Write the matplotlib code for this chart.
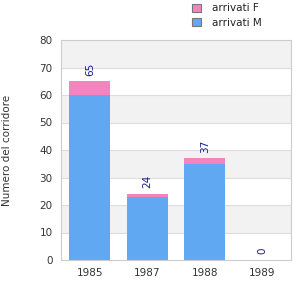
import matplotlib.pyplot as plt
import numpy as np

years = ["1985", "1987", "1988", "1989"]
arrivati_m = [60, 23, 35, 0]
arrivati_f = [5, 1, 2, 0]
totals = [65, 24, 37, 0]

fig = plt.figure(figsize=(3, 3), dpi=100)
ax = fig.add_axes([61 / 300, 40 / 300, 230 / 300, 220 / 300])

x = np.arange(len(years))
ax.set_xlim(-0.5, 3.5)
ax.set_ylim(0, 80)

# alternate background bands
for lo in range(10, 80, 20):
    ax.axhspan(lo, lo + 10, color="#f2f2f2", zorder=0, lw=0)
for y in range(10, 80, 10):
    ax.axhline(y, color="#dddddd", lw=0.8, zorder=1)

ax.bar(x, arrivati_m, width=0.71, color="#60a8f2", zorder=2, label="arrivati M")
ax.bar(x, arrivati_f, width=0.71, bottom=arrivati_m, color="#f285be", zorder=2, label="arrivati F")

for xi, t in zip(x, totals):
    ax.text(xi, t + 2, str(t), rotation=90, ha="center", va="bottom",
            fontsize=7.5, color="#1a1a8c")

ax.set_xticks(x)
ax.set_xticklabels(years)
ax.set_yticks(range(0, 81, 10))
ax.tick_params(length=0, labelsize=7.5, colors="#333333", pad=6)
for s in ax.spines.values():
    s.set_color("#cccccc")
ax.set_ylabel("Numero del corridore", fontsize=7.5, color="#333333")
ax.yaxis.set_label_coords(-49 / 230, 0.5)

handles, labels = ax.get_legend_handles_labels()
fig.legend(handles[::-1], labels[::-1], loc="upper left", bbox_to_anchor=(183 / 300, 1.02),
           frameon=False, fontsize=7.5, handlelength=0.8, handleheight=0.8,
           labelspacing=0.4, handletextpad=1.1)
for t in fig.legends[0].get_texts():
    t.set_color("#222222")
for p in fig.legends[0].get_patches():
    p.set_edgecolor("#777777")
    p.set_linewidth(0.8)

plt.savefig("out.png")
